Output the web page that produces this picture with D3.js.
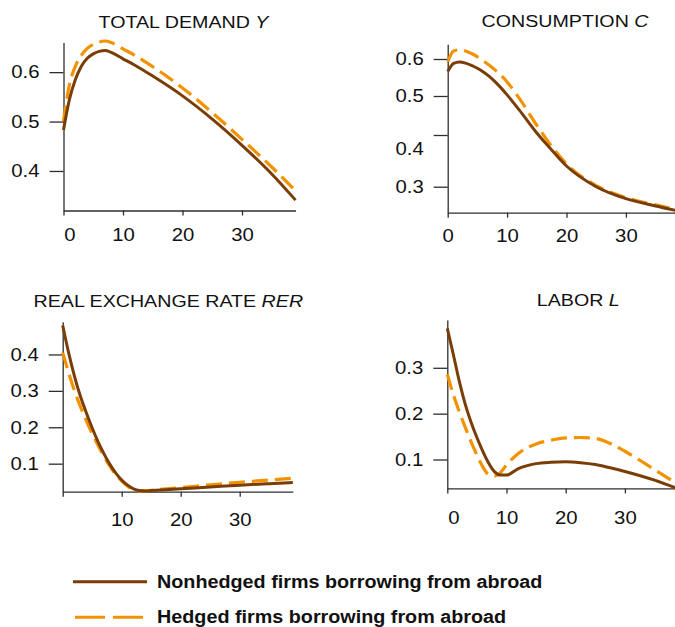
<!DOCTYPE html>
<html>
<head>
<meta charset="utf-8">
<script src="https://cdn.jsdelivr.net/npm/d3@7"></script>
<style>
  body { margin: 0; background: #fff; }
  svg { display: block; font-family: "Liberation Sans", Arial, Helvetica, sans-serif; }
</style>
</head>
<body>
<svg id="chart"></svg>
<script>
// Impulse responses, nonhedged vs hedged firms borrowing from abroad

// TOTAL DEMAND Y
const demandT = [0, 1, 2, 3, 4, 5, 6, 7, 8, 10, 12, 15, 20, 25, 30, 35, 39];
const demandNonhedged = [0.483, 0.545, 0.585, 0.612, 0.628, 0.637, 0.642, 0.644, 0.640, 0.627, 0.614, 0.592, 0.552, 0.505, 0.452, 0.394, 0.341];
const demandHedged = [0.500, 0.575, 0.612, 0.634, 0.648, 0.656, 0.661, 0.663, 0.660, 0.647, 0.634, 0.611, 0.568, 0.518, 0.464, 0.408, 0.360];

// CONSUMPTION C
const consT = [0, 1, 2, 3, 4, 5, 6, 7, 8, 10, 12, 15, 17.5, 20, 25, 30, 35, 39];
const consNonhedged = [0.566, 0.588, 0.592, 0.589, 0.583, 0.575, 0.565, 0.553, 0.538, 0.503, 0.465, 0.405, 0.371, 0.340, 0.300, 0.277, 0.263, 0.253];
const consHedged = [0.593, 0.622, 0.625, 0.622, 0.615, 0.606, 0.595, 0.583, 0.570, 0.538, 0.495, 0.425, 0.378, 0.344, 0.302, 0.279, 0.265, 0.255];

// REAL EXCHANGE RATE RER
const rerT = [0, 1, 2, 3, 4, 5, 6, 7, 8, 9, 10, 11, 12, 13, 14, 15, 20, 25, 30, 35, 39];
const rerNonhedged = [0.480, 0.405, 0.340, 0.285, 0.240, 0.198, 0.160, 0.127, 0.098, 0.074, 0.055, 0.041, 0.031, 0.026, 0.025, 0.026, 0.031, 0.036, 0.041, 0.045, 0.048];
const rerHedged = [0.405, 0.350, 0.300, 0.257, 0.218, 0.182, 0.150, 0.120, 0.093, 0.070, 0.052, 0.038, 0.029, 0.025, 0.025, 0.027, 0.034, 0.042, 0.049, 0.055, 0.060];

// LABOR L
const laborT = [0, 1, 2, 3, 4, 5, 6, 7, 8, 9, 10, 12, 15, 17.5, 20, 22.5, 25, 27.5, 30, 35, 39];
const laborNonhedged = [0.386, 0.330, 0.272, 0.222, 0.182, 0.148, 0.118, 0.092, 0.073, 0.066, 0.066, 0.080, 0.091, 0.094, 0.095, 0.093, 0.089, 0.082, 0.074, 0.055, 0.036];
const laborHedged = [0.286, 0.242, 0.205, 0.171, 0.139, 0.110, 0.084, 0.067, 0.064, 0.072, 0.088, 0.113, 0.134, 0.142, 0.147, 0.148, 0.146, 0.135, 0.118, 0.078, 0.045];

const xTickValues = [0, 10, 20, 30];
const legendLabels = ["Nonhedged firms borrowing from abroad", "Hedged firms borrowing from abroad"];

const BROWN = "#7a3d05";
const ORANGE = "#f39200";
const AXIS = "#2e2e2e";
const SX = 1.13; // glyphs in the source are a bit wider than Arial

const svg = d3.select("#chart")
    .attr("width", 675)
    .attr("height", 627);

// stretch text horizontally around its anchor point
function widen(sel) {
    sel.each(function () {
        const x = +this.getAttribute("x") || 0;
        d3.select(this)
            .attr("x", 0)
            .attr("transform", `translate(${x},0) scale(${SX},1)`);
    });
}

function drawPanel(p) {
    const x = d3.scaleLinear()
        .domain([0, 39])
        .range([p.x0, p.x0 + 39 * p.step]);
    const y = d3.scaleLinear()
        .domain(p.yDomain)
        .range(p.yRange);

    const g = svg.append("g");

    // title, last word in italics
    const title = g.append("text")
        .attr("transform", `translate(${p.titleX},${p.titleY}) scale(${SX},1)`)
        .attr("text-anchor", "middle")
        .style("font-size", "17.4px")
        .attr("fill", "#111");
    title.append("tspan").text(p.title + " ");
    title.append("tspan").style("font-style", "italic").text(p.symbol);

    const xAxis = g.append("g")
        .attr("transform", `translate(0,${p.yRange[0]})`)
        .call(d3.axisBottom(x)
            .tickValues(xTickValues)
            .tickSize(5)
            .tickSizeOuter(0)
            .tickPadding(p.xPad)
            .tickFormat(d => (d === 0 && p.hideZero) ? "" : d));

    xAxis.selectAll(".tick text")
        .filter(d => d === 0)
        .attr("x", p.zeroShift || 0);

    const yAxis = g.append("g")
        .attr("transform", `translate(${p.x0},0)`)
        .call(d3.axisLeft(y)
            .tickValues(p.yTicks)
            .tickSize(14)
            .tickSizeOuter(0)
            .tickPadding(10)
            .tickFormat(d3.format(".1f")));

    // the 0.4 label of the consumption panel sits below its tick
    yAxis.selectAll(".tick text")
        .attr("y", d => (p.labelShift && p.labelShift[d]) || 0);

    for (const ax of [xAxis, yAxis]) {
        ax.selectAll("path, line").attr("stroke", AXIS).attr("stroke-width", 1.3);
        ax.selectAll("text")
            .attr("fill", "#111")
            .style("font-size", "18px")
            .style("font-family", "'Liberation Sans', Arial, sans-serif")
            .call(widen);
    }

    const line = d3.line()
        .x(d => x(d[0]))
        .y(d => y(d[1]))
        .curve(d3.curveMonotoneX);

    g.append("path")
        .datum(d3.zip(p.t, p.hedged))
        .attr("fill", "none")
        .attr("stroke", ORANGE)
        .attr("stroke-width", 3.2)
        .attr("stroke-dasharray", "16,7")
        .attr("d", line);

    g.append("path")
        .datum(d3.zip(p.t, p.nonhedged))
        .attr("fill", "none")
        .attr("stroke", BROWN)
        .attr("stroke-width", 3)
        .attr("stroke-linejoin", "round")
        .attr("d", line);
}

drawPanel({
    title: "TOTAL DEMAND", symbol: "Y", titleX: 183.5, titleY: 28,
    t: demandT, nonhedged: demandNonhedged, hedged: demandHedged,
    x0: 63.5, step: 5.95, xPad: 13, zeroShift: 6,
    yDomain: [0.32, 0.66], yRange: [210.5, 42.5], yTicks: [0.4, 0.5, 0.6]
});

drawPanel({
    title: "CONSUMPTION", symbol: "C", titleX: 565, titleY: 26.5,
    t: consT, nonhedged: consNonhedged, hedged: consHedged,
    x0: 447.7, step: 5.94, xPad: 12,
    yDomain: [0.25, 0.3, 0.4, 0.5, 0.6, 0.64], yRange: [212.7, 186.7, 135, 96, 59, 44.3],
    yTicks: [0.3, 0.4, 0.5, 0.6], labelShift: {0.4: 14}
});

drawPanel({
    title: "REAL EXCHANGE RATE", symbol: "RER", titleX: 168.3, titleY: 306.5,
    t: rerT, nonhedged: rerNonhedged, hedged: rerHedged,
    x0: 62.7, step: 5.9, xPad: 16.5, hideZero: true,
    yDomain: [0.023, 0.49], yRange: [491.7, 321.7], yTicks: [0.1, 0.2, 0.3, 0.4]
});

drawPanel({
    title: "LABOR", symbol: "L", titleX: 578.3, titleY: 306,
    t: laborT, nonhedged: laborNonhedged, hedged: laborHedged,
    x0: 447.3, step: 5.92, xPad: 18, zeroShift: 6,
    yDomain: [0.037, 0.404], yRange: [488.4, 320.1], yTicks: [0.1, 0.2, 0.3]
});

// legend
const legend = svg.append("g");
const legendY = [581.7, 617.3];

legend.append("line")
    .attr("x1", 73).attr("x2", 147)
    .attr("y1", legendY[0]).attr("y2", legendY[0])
    .attr("stroke", BROWN)
    .attr("stroke-width", 3);

legend.append("line")
    .attr("x1", 75).attr("x2", 143)
    .attr("y1", legendY[1]).attr("y2", legendY[1])
    .attr("stroke", ORANGE)
    .attr("stroke-width", 3)
    .attr("stroke-dasharray", "30,8");

legend.selectAll("text.lbl")
    .data(legendLabels)
    .join("text")
    .attr("class", "lbl")
    .attr("transform", (d, i) => `translate(157,${legendY[i] + 6}) scale(${SX},1)`)
    .style("font-size", "17.5px")
    .style("font-weight", "bold")
    .attr("fill", "#111")
    .text(d => d);
</script>
</body>
</html>
